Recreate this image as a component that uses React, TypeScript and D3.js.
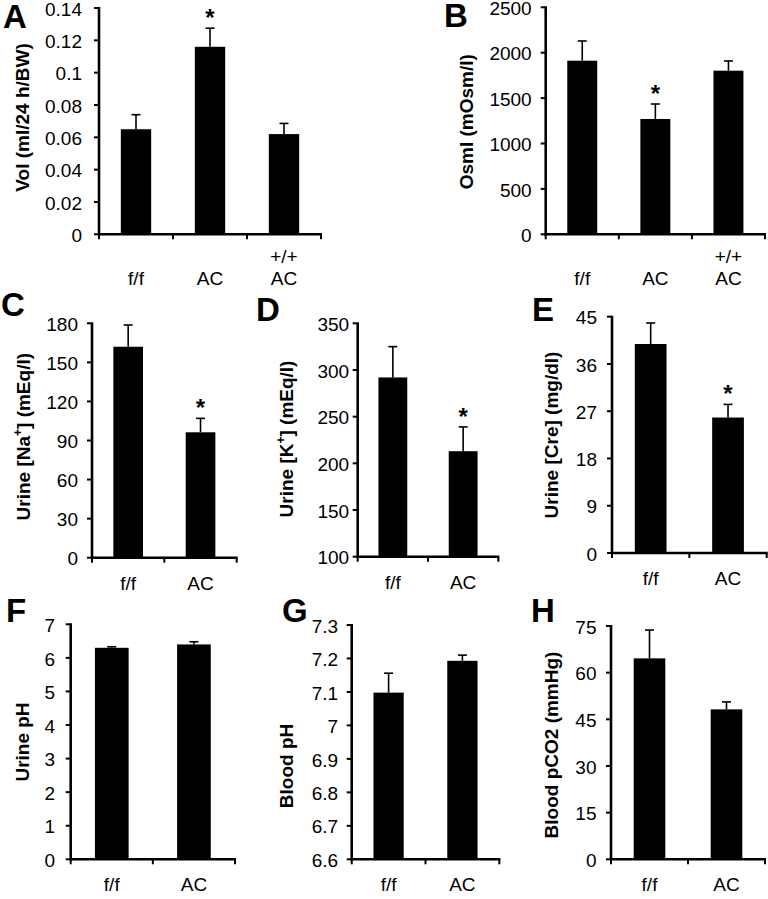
import React from "react";
import * as d3 from "d3";

// ---------- data ----------
const catsThree = ["f/f", "AC", "+/+\nAC"];
const catsTwo = ["f/f", "AC"];

const volMean = [0.065, 0.116, 0.062];
const volErr = [0.009, 0.0115, 0.0066];
const volSig = [false, true, false];
const volTicks = [0, 0.02, 0.04, 0.06, 0.08, 0.1, 0.12, 0.14];

const osmMean = [1912, 1270, 1802];
const osmErr = [217, 165, 107];
const osmSig = [false, true, false];
const osmTicks = [0, 500, 1000, 1500, 2000, 2500];

const naMean = [162, 96.3];
const naErr = [16.7, 10.7];
const naSig = [false, true];
const naTicks = [0, 30, 60, 90, 120, 150, 180];

const kMean = [292, 213];
const kErr = [33, 26];
const kSig = [false, true];
const kTicks = [100, 150, 200, 250, 300, 350];

const creMean = [39.8, 25.8];
const creErr = [4.0, 2.5];
const creSig = [false, true];
const creTicks = [0, 9, 18, 27, 36, 45];

const uphMean = [6.3, 6.4];
const uphErr = [0.03, 0.08];
const uphSig = [false, false];
const uphTicks = [0, 1, 2, 3, 4, 5, 6, 7];

const bphMean = [7.098, 7.193];
const bphErr = [0.058, 0.017];
const bphSig = [false, false];
const bphTicks = [6.6, 6.7, 6.8, 6.9, 7, 7.1, 7.2, 7.3];

const pco2Mean = [64.6, 48.2];
const pco2Err = [9.1, 2.4];
const pco2Sig = [false, false];
const pco2Ticks = [0, 15, 30, 45, 60, 75];

// ---------- layout ----------
type Label = { main: string; sup?: string; rest?: string };
type Panel = {
  letter: string;
  cats: string[];
  mean: number[];
  err: number[];
  sig: boolean[];
  ticks: number[];
  label: Label;
  x0: number; x1: number; yTop: number; yBot: number;
  gap: number; // tick label gap from axis
  lx: number; ly: number; // panel letter
  tx: number; ty: number; // y-title baseline x, center y
};

const panels: Panel[] = [
  { letter: "A", cats: catsThree, mean: volMean, err: volErr, sig: volSig, ticks: volTicks,
    label: { main: "Vol (ml/24 h/BW)" }, x0: 99, x1: 321, yTop: 8, yBot: 234.3, gap: 17, lx: 3, ly: 28, tx: 28.5, ty: 117.5 },
  { letter: "B", cats: catsThree, mean: osmMean, err: osmErr, sig: osmSig, ticks: osmTicks,
    label: { main: "Osml (mOsm/l)" }, x0: 545.7, x1: 765, yTop: 7.3, yBot: 234.3, gap: 14, lx: 444, ly: 27, tx: 473.3, ty: 121.7 },
  { letter: "C", cats: catsTwo, mean: naMean, err: naErr, sig: naSig, ticks: naTicks,
    label: { main: "Urine [Na", sup: "+", rest: "] (mEq/l)" }, x0: 92, x1: 236.7, yTop: 323.3, yBot: 557.7, gap: 14, lx: 1, ly: 316, tx: 30, ty: 436.7 },
  { letter: "D", cats: catsTwo, mean: kMean, err: kErr, sig: kSig, ticks: kTicks,
    label: { main: "Urine [K", sup: "+", rest: "] (mEq/l)" }, x0: 357.7, x1: 498.3, yTop: 323.3, yBot: 556.7, gap: 8.5, lx: 256, ly: 321, tx: 293.3, ty: 439 },
  { letter: "E", cats: catsTwo, mean: creMean, err: creErr, sig: creSig, ticks: creTicks,
    label: { main: "Urine [Cre] (mg/dl)" }, x0: 612, x1: 766.7, yTop: 316.7, yBot: 553, gap: 15, lx: 532, ly: 321, tx: 558.3, ty: 435 },
  { letter: "F", cats: catsTwo, mean: uphMean, err: uphErr, sig: uphSig, ticks: uphTicks,
    label: { main: "Urine pH" }, x0: 70.7, x1: 235, yTop: 624.3, yBot: 859.3, gap: 15.5, lx: 6, ly: 622, tx: 29.3, ty: 742 },
  { letter: "G", cats: catsTwo, mean: bphMean, err: bphErr, sig: bphSig, ticks: bphTicks,
    label: { main: "Blood pH" }, x0: 351.7, x1: 499.3, yTop: 625, yBot: 859.3, gap: 13.5, lx: 282, ly: 622, tx: 292.7, ty: 766 },
  { letter: "H", cats: catsTwo, mean: pco2Mean, err: pco2Err, sig: pco2Sig, ticks: pco2Ticks,
    label: { main: "Blood pCO2 (mmHg)" }, x0: 611, x1: 765, yTop: 626, yBot: 859.3, gap: 14.5, lx: 531, ly: 622, tx: 558.3, ty: 745 },
];

const FONT = "'Liberation Sans', Arial, Helvetica, sans-serif";

function PanelView({ p }: { p: Panel }) {
  const x = d3.scaleBand<string>().domain(p.cats).range([p.x0, p.x1]).padding(0);
  const y = d3.scaleLinear().domain([p.ticks[0], p.ticks[p.ticks.length - 1]]).range([p.yBot, p.yTop]);
  const bw = x.bandwidth() * 0.41;
  const edges = [...p.cats.map((c) => x(c) as number), p.x1];
  const twoLine = p.cats.some((c) => c.includes("\n"));
  return (
    <g>
      {/* bars */}
      {p.cats.map((c, i) => {
        const cx = (x(c) as number) + x.bandwidth() / 2;
        const top = y(p.mean[i]);
        const et = y(p.mean[i] + p.err[i]);
        return (
          <g key={c}>
            <rect x={cx - bw / 2} y={top} width={bw} height={p.yBot - top} fill="#000" />
            <line x1={cx} x2={cx} y1={top} y2={et} stroke="#000" strokeWidth={1.6} />
            <line x1={cx - 4.5} x2={cx + 4.5} y1={et} y2={et} stroke="#000" strokeWidth={1.6} />
            {p.sig[i] && (
              <text x={cx} y={et - 2} textAnchor="middle" fontFamily={FONT} fontWeight="bold" fontSize={24}>*</text>
            )}
          </g>
        );
      })}
      {/* y axis */}
      <line x1={p.x0} x2={p.x0} y1={p.yTop - 1} y2={p.yBot + 1} stroke="#000" strokeWidth={2.6} />
      {p.ticks.map((t) => (
        <g key={t}>
          <line x1={p.x0 - 5} x2={p.x0} y1={y(t)} y2={y(t)} stroke="#000" strokeWidth={2} />
          <text x={p.x0 - p.gap} y={y(t) + 1} dy="0.35em" textAnchor="end" fontFamily={FONT} fontSize={19}>{String(t)}</text>
        </g>
      ))}
      {/* x axis */}
      <line x1={p.x0 - 1} x2={p.x1 + 1} y1={p.yBot} y2={p.yBot} stroke="#000" strokeWidth={2.6} />
      {edges.map((e, i) => (
        <line key={i} x1={e} x2={e} y1={p.yBot} y2={p.yBot + 5} stroke="#000" strokeWidth={2} />
      ))}
      {p.cats.map((c) => {
        const cx = (x(c) as number) + x.bandwidth() / 2;
        const lines = c.split("\n");
        const base = p.yBot + (twoLine ? 51 : 32);
        return lines.map((ln, j) => (
          <text key={c + j} x={cx} y={base - (lines.length - 1 - j) * 22} textAnchor="middle" fontFamily={FONT} fontSize={19}>{ln}</text>
        ));
      })}
      {/* y title */}
      <text transform={`translate(${p.tx},${p.ty}) rotate(-90)`} textAnchor="middle" fontFamily={FONT} fontWeight="bold" fontSize={19}>
        {p.label.main}
        {p.label.sup && <tspan fontSize={12} dy={-8}>{p.label.sup}</tspan>}
        {p.label.rest && <tspan dy={8}>{p.label.rest}</tspan>}
      </text>
      {/* panel letter */}
      <text x={p.lx} y={p.ly} fontFamily={FONT} fontWeight="bold" fontSize={33}>{p.letter}</text>
    </g>
  );
}

export default function App() {
  return (
    <svg width={768} height={899} style={{ position: "absolute", left: 0, top: 0, background: "#fff" }}>
      <rect width={768} height={899} fill="#fff" />
      {panels.map((p) => <PanelView key={p.letter} p={p} />)}
    </svg>
  );
}
